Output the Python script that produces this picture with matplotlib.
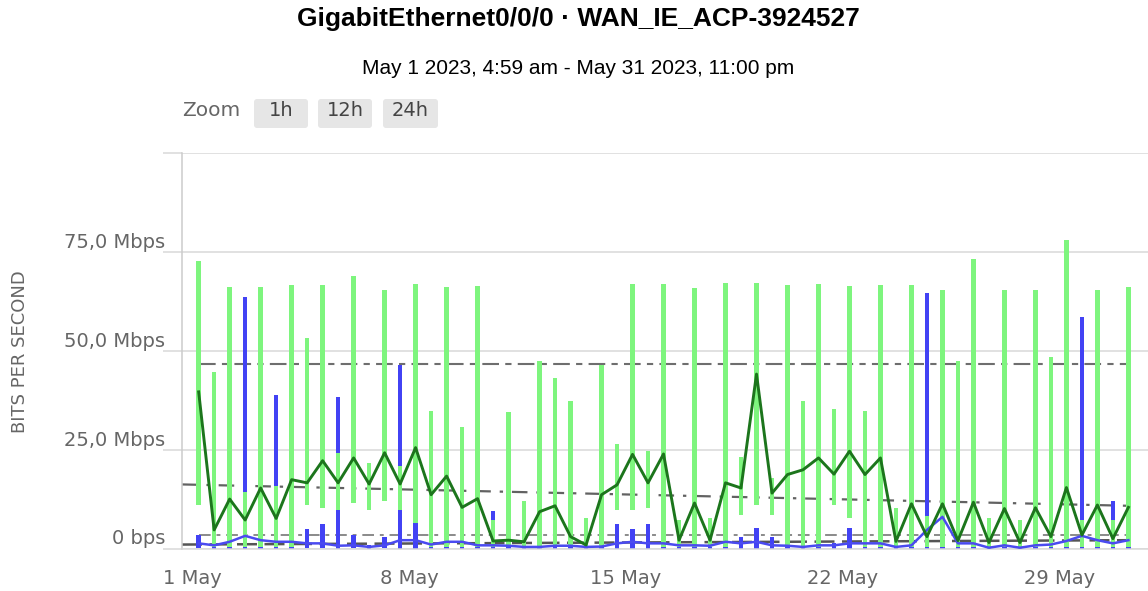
import matplotlib
matplotlib.use("Agg")
import matplotlib.pyplot as plt
import matplotlib.dates as mdates
from matplotlib.patches import FancyBboxPatch
import numpy as np
import pandas as pd

# ---------------- data ----------------
title = "GigabitEthernet0/0/0 \u00b7 WAN_IE_ACP-3924527"
subtitle = "May 1 2023, 4:59 am - May 31 2023, 11:00 pm"
y_axis_title = "BITS PER SECOND"
start_time = "2023-05-01 04:59"
step = "12h"

y_ticks = [0, 25, 50, 75, 100]
y_tick_labels = ["0 bps", "25,0 Mbps", "50,0 Mbps", "75,0 Mbps", ""]
x_tick_dates = ["2023-05-01", "2023-05-08", "2023-05-15", "2023-05-22", "2023-05-29"]
x_tick_labels = ["1 May", "8 May", "15 May", "22 May", "29 May"]
zoom_buttons = ["1h", "12h", "24h"]

# inbound range (Mbps) per 12h group
in_min = [11.0, 0.3, 0.3, 0.3, 0.3, 0.3, 0.3, 11.0, 10.2, 9.8,
          11.5, 9.8, 11.9, 9.8, 6.4, 0.3, 0.3, 0.3, 0.3, 0.3,
          0.3, 0.3, 0.3, 0.3, 0.3, 0.3, 0.3, 9.8, 9.8, 10.2,
          0.3, 0.3, 0.3, 0.3, 0.3, 8.5, 11.0, 8.5, 0.3, 0.3,
          0.3, 11.0, 7.8, 0.3, 0.3, 0.3, 0.3, 0.3, 0.3, 0.3,
          0.3, 0.3, 0.3, 0.3, 0.3, 0.3, 0.3, 0.3, 0.3, 0.3, 0.3]
in_max = [72.6, 44.6, 66.0, 14.4, 66.0, 15.7, 66.5, 53.3, 66.5, 24.2,
          68.9, 21.6, 65.4, 20.8, 66.8, 34.8, 66.0, 30.6, 66.4, 7.2,
          34.4, 12.1, 47.5, 43.1, 37.4, 7.8, 46.3, 26.5, 66.8, 24.6,
          66.8, 7.2, 65.8, 7.6, 67.2, 23.1, 67.2, 17.8, 66.5, 37.2,
          66.8, 35.2, 66.4, 34.8, 66.5, 10.2, 66.5, 8.1, 65.4, 47.5,
          73.2, 7.6, 65.4, 7.2, 65.4, 48.4, 78.1, 7.2, 65.4, 7.2, 66.0]
# outbound range (Mbps) per 12h group
out_min = [0.2, 0.0, 0.0, 0.0, 0.0, 0.0, 0.0, 0.2, 0.2, 0.0,
           0.2, 0.0, 0.2, 0.0, 0.0, 0.0, 0.0, 0.0, 0.0, 0.0,
           0.0, 0.0, 0.0, 0.0, 0.0, 0.0, 0.0, 0.0, 0.0, 0.0,
           0.0, 0.0, 0.0, 0.0, 0.0, 0.0, 0.0, 0.0, 0.0, 0.0,
           0.0, 0.0, 0.0, 0.0, 0.0, 0.0, 0.0, 0.0, 0.0, 0.0,
           0.0, 0.0, 0.0, 0.0, 0.0, 0.0, 0.0, 0.0, 0.0, 0.0, 0.0]
out_max = [3.4, 2.5, 3.0, 63.5, 3.0, 38.8, 3.0, 4.9, 6.2, 38.2,
           3.4, 0.8, 3.0, 46.3, 6.4, 2.0, 2.0, 2.0, 2.0, 9.6,
           1.5, 1.0, 1.0, 1.0, 1.0, 1.0, 1.0, 6.2, 4.9, 6.2,
           2.0, 1.0, 1.0, 1.0, 2.0, 3.0, 5.1, 3.0, 1.0, 1.0,
           1.0, 1.5, 5.3, 2.0, 1.5, 1.0, 1.5, 64.5, 4.0, 1.0,
           1.0, 1.0, 1.0, 1.0, 1.0, 1.0, 2.0, 58.6, 2.0, 12.1, 2.0]
# averages (Mbps)
in_avg = [39.6, 4.7, 12.5, 7.2, 15.3, 7.6, 17.4, 16.6, 22.2, 16.6,
          22.9, 16.3, 24.2, 16.3, 25.5, 13.6, 18.3, 10.4, 12.6, 1.9,
          2.1, 1.7, 9.3, 10.8, 3.0, 0.9, 13.6, 16.1, 23.8, 16.6,
          23.9, 2.1, 11.5, 2.1, 16.6, 15.3, 44.1, 14.0, 18.7, 19.9,
          22.9, 18.8, 24.6, 18.7, 22.9, 1.8, 11.3, 3.0, 11.3, 2.0,
          11.7, 1.5, 10.1, 1.5, 10.3, 3.0, 15.4, 3.4, 11.0, 2.5, 10.4]
out_avg = [1.3, 0.8, 1.7, 3.2, 2.1, 1.7, 1.7, 1.3, 1.3, 0.7,
           0.8, 0.4, 0.8, 2.1, 2.1, 1.0, 1.7, 1.7, 0.8, 0.8,
           0.7, 0.4, 0.4, 0.7, 0.7, 0.4, 0.5, 1.3, 1.7, 1.3,
           1.3, 0.8, 0.8, 0.7, 1.7, 1.3, 1.7, 0.8, 0.7, 0.4,
           0.8, 0.8, 1.3, 1.3, 1.3, 0.4, 0.8, 4.7, 8.0, 1.3,
           1.3, 0.2, 0.8, 0.2, 0.8, 1.0, 1.9, 3.2, 2.1, 1.3, 2.1]
# reference lines (Mbps)
in_p95 = 46.7
out_p95 = 3.4
in_trend = [16.2, 10.8]
out_trend = [1.0, 2.1]

# ---------------- figure ----------------
W, H = 1148, 591
fig = plt.figure(figsize=(W / 100, H / 100), dpi=100)
fig.patch.set_facecolor("white")

ax_left, ax_right, ax_top, ax_bottom = 182, 1148, 153, 548.5
ax = fig.add_axes([ax_left / W, (H - ax_bottom) / H,
                   (ax_right - ax_left) / W, (ax_bottom - ax_top) / H])

times = pd.date_range(start_time, periods=len(in_avg), freq=step)
x = mdates.date2num(times.to_pydatetime())
x0 = mdates.date2num(pd.Timestamp("2023-05-01").to_pydatetime())
xlim = (x0 - 0.33, x0 + 30.84)

bar_w = 0.14
out_min_a, out_max_a = np.array(out_min), np.array(out_max)
in_min_a, in_max_a = np.array(in_min), np.array(in_max)

ax.plot([xlim[0], x[-1]], in_trend, color="#626262", lw=1.6,
        ls=(0, (7, 4, 1.5, 4)), zorder=1.5)
ax.plot([x[0], x[-1]], [in_p95, in_p95], color="#6e6e6e", lw=1.5,
        ls=(0, (8, 3, 3, 3)), zorder=1.5)
ax.plot([x[0], x[-1]], [out_p95, out_p95], color="#8a8a8a", lw=1.4,
        ls=(0, (6, 3, 2, 3)), zorder=1.5)
ax.plot([xlim[0], x[-1]], out_trend, color="#555555", lw=1.8,
        ls=(0, (8, 3)), zorder=1.5)

ax.bar(x, out_max_a - out_min_a, bottom=out_min_a, width=bar_w,
       color="#4242f4", zorder=2, linewidth=0)
ax.bar(x, in_max_a - in_min_a, bottom=in_min_a, width=bar_w,
       color="#7ef57e", zorder=3, linewidth=0)
ax.plot(x, out_avg, color="#4a4af0", lw=1.8, zorder=4)
ax.plot(x, in_avg, color="#1c751c", lw=2.1, zorder=5)

ax.set_xlim(*xlim)
ax.set_ylim(0, 100)

ax.set_yticks(y_ticks)
ax.set_yticklabels(y_tick_labels)
ax.tick_params(axis="y", length=13.7, width=1.1, color="#d8d8d8",
               labelsize=14, labelcolor="#666666", pad=-1.5)
for lbl in ax.get_yticklabels():
    lbl.set_verticalalignment("bottom")

ax.set_xticks(mdates.date2num(pd.to_datetime(x_tick_dates).to_pydatetime()))
ax.set_xticklabels(x_tick_labels)
ax.tick_params(axis="x", length=0, labelsize=14, labelcolor="#666666", pad=15)

ax.grid(axis="y", color="#d8d8d8", lw=1.1, zorder=0)
ax.set_axisbelow(True)
for s in ["top", "right"]:
    ax.spines[s].set_visible(False)
ax.spines["left"].set_color("#cccccc")
ax.spines["left"].set_linewidth(1.1)
ax.spines["bottom"].set_color("#d8d8d8")
ax.spines["bottom"].set_linewidth(1.1)

# ---------------- header overlay (pixel coords) ----------------
ov = fig.add_axes([0, 0, 1, 1], zorder=-1)
ov.set_xlim(0, W)
ov.set_ylim(H, 0)
ov.axis("off")

ov.text(578, 19, title, ha="center", va="center", fontsize=19,
        fontweight="bold", family="Liberation Sans", color="#000000")
ov.text(578, 68, subtitle, ha="center", va="center", fontsize=15,
        family="Liberation Sans", color="#000000")
ov.text(182, 111, "Zoom", ha="left", va="center", fontsize=14.5, color="#666666")
btn_x = [(254, 308), (318, 372), (383, 438)]
for lab, (bx0, bx1) in zip(zoom_buttons, btn_x):
    ov.add_patch(FancyBboxPatch((bx0, 99), bx1 - bx0, 29,
                                boxstyle="round,pad=0,rounding_size=3",
                                fc="#e6e6e6", ec="none"))
    ov.text((bx0 + bx1) / 2, 111, lab, ha="center", va="center",
            fontsize=14, color="#444444")

ov.text(20, 352, y_axis_title, ha="center", va="center", rotation=90,
        fontsize=13, color="#666666")

fig.savefig("out.png", dpi=100, facecolor="white")
